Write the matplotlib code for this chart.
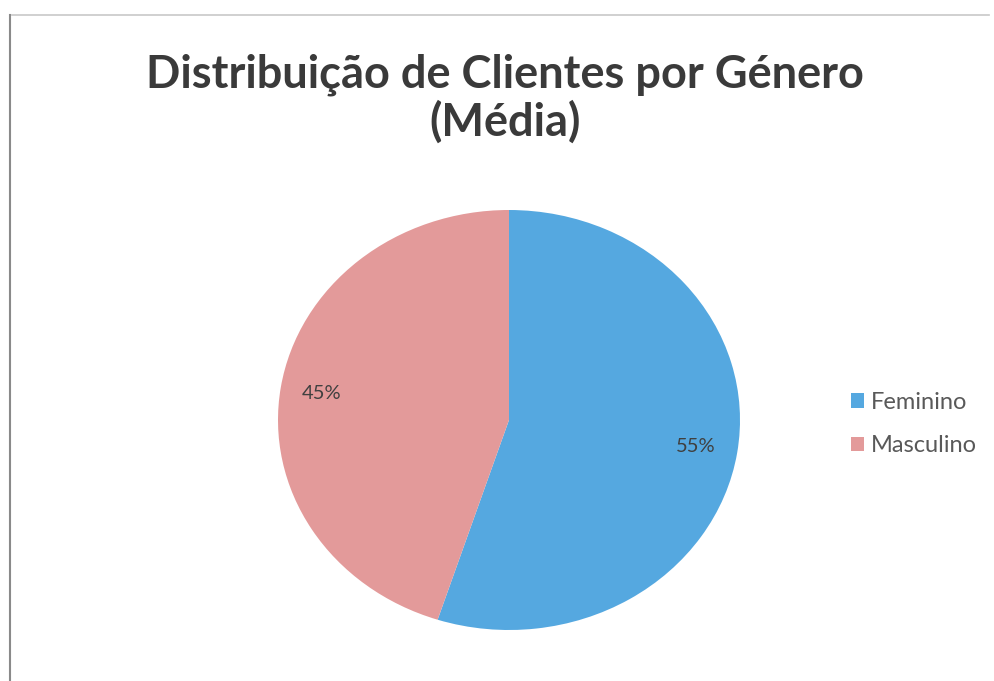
import matplotlib
matplotlib.use("Agg")
import matplotlib.pyplot as plt
from matplotlib.lines import Line2D
from matplotlib.patches import Patch

# dados
generos = ["Feminino", "Masculino"]
percentagens = [55, 45]
cores = ["#55A8E0", "#E39A9A"]
titulo = "Distribuição de Clientes por Género\n(Média)"

plt.rcParams['font.family'] = ['Lato', 'DejaVu Sans']

fig = plt.figure(figsize=(9.94, 6.81), dpi=100)
fig.patch.set_facecolor("white")

# moldura do scan
fig.add_artist(Line2D([12/994, 0.995], [1-15/681, 1-15/681], color="#c8c8c8", lw=1.2))
fig.add_artist(Line2D([10/994, 10/994], [0, 1-15/681], color="#8a8a8a", lw=1.5))

fig.text(0.508, 1-54/681, titulo, ha="center", va="top", fontsize=32.5,
         fontweight="bold", color="#3a3a3a", linespacing=1.1)

ax = fig.add_axes([278/994, 51/681, 462/994, 420/681])
fatias, textos, autotextos = ax.pie(percentagens, colors=cores, startangle=90,
                                    counterclock=False, autopct="%d%%",
                                    pctdistance=0.82,
                                    textprops=dict(fontsize=14.5, color="#404040"))
ax.set_aspect("auto")
ax.set_xlim(-1, 1)
ax.set_ylim(-1, 1)

handles = [Patch(facecolor=c, edgecolor="none") for c in cores]
fig.legend(handles, generos, loc="center left", bbox_to_anchor=(830/994, 1-424/681),
           frameon=False, fontsize=17, labelcolor="#595959", handlelength=0.55,
           handleheight=0.55, handletextpad=0.3, labelspacing=0.95)

fig.savefig("out.png", dpi=100)
